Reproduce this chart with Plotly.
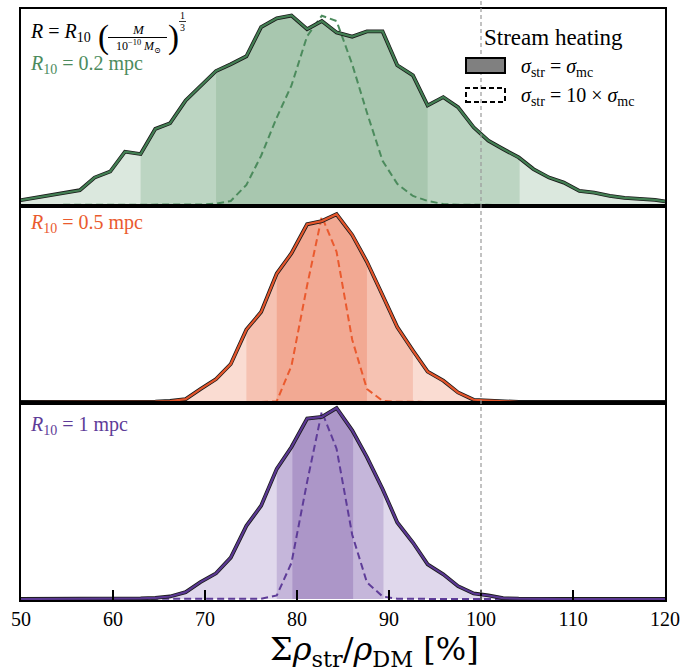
import numpy as np
import plotly.graph_objects as go
from plotly.subplots import make_subplots

# ---------------- data ----------------
bin_centers = [49.8, 51.4, 53.1, 54.7, 56.4, 58.0, 59.7, 61.3, 63.0, 64.6, 66.2, 67.9,
               69.5, 71.2, 72.8, 74.5, 76.1, 77.8, 79.4, 81.1, 82.7, 84.3, 86.0, 87.6,
               89.3, 90.9, 92.6, 94.2, 95.9, 97.5, 99.2, 100.8, 102.4, 104.1, 105.7, 107.4,
               109.0, 110.7, 112.3, 114.0, 115.6, 117.2, 118.9, 120.5]

green_solid = [4.5, 6.9, 9.5, 12, 14.7, 27.3, 33.3, 53, 50.7, 75.7, 81.3, 104, 118, 133.3,
               140, 148, 177, 185.7, 188.5, 175, 183, 171.7, 167.5, 172.7, 172.7, 139, 129,
               99, 107.3, 97.3, 77.3, 64, 55.7, 47.3, 35.7, 27.3, 22.3, 14, 12.3, 9, 7, 6.3, 5, 3]
green_dashed = [0, 0, 0, 0, 0, 0, 0, 0, 0, 0, 0, 0, 0.5, 1.3, 4, 20, 49, 87, 119, 168, 188.3,
                183, 140, 92, 44, 21, 9, 4, 1, 0.3, 0, 0, 0, 0, 0, 0, 0, 0, 0, 0, 0, 0, 0, 0]

orange_solid = [0, 0, 0, 0, 0, 0, 0, 0, 0, 0.3, 1, 2.8, 12.8, 22.8, 37.8, 72, 89.5, 127.8,
                148, 176.8, 180, 186.8, 166.2, 139.5, 106.2, 74.5, 51.2, 30.2, 21.2, 9.5, 2.2,
                1.5, 0.5, 0, 0, 0, 0, 0, 0, 0, 0, 0, 0, 0]
orange_dashed = [0, 0, 0, 0, 0, 0, 0, 0, 0, 0, 0, 0, 0, 0, 0, 0, 0, 0.8, 36, 116, 184.5,
                 149.5, 62, 13, 1.2, 0.2, 0, 0, 0, 0, 0, 0, 0, 0, 0, 0, 0, 0, 0, 0, 0, 0, 0, 0]

purple_solid = [0, 0, 0, 0, 0, 0, 0, 0.3, 0.7, 1.2, 2.5, 6.8, 16.8, 25.5, 41.2, 72.8, 92.8,
                129.5, 151.2, 179.5, 181.2, 190, 167.8, 141.2, 109.5, 76.2, 56.2, 34.5, 24.5,
                12.8, 5.5, 3.5, 0.8, 0.3, 0, 0, 0, 0, 0, 0, 0, 0, 0, 0]
purple_dashed = [0, 0, 0, 0, 0, 0, 0, 0, 0, 0, 0, 0, 0, 0, 0, 0, 0.3, 3.5, 36, 116.5, 186.5,
                 149.5, 64, 16.5, 2.5, 0.3, 0, 0, 0, 0, 0, 0, 0, 0, 0, 0, 0, 0, 0, 0, 0, 0, 0, 0]

# credible intervals (outer, inner)
green_intervals = [(63.0, 104.2), (71.2, 94.2)]
orange_intervals = [(74.5, 92.6), (77.8, 87.6)]
purple_intervals = [(77.8, 89.4), (79.5, 86.1)]

x_ticks = [50, 60, 70, 80, 90, 100, 110, 120]
labels = ["<i>R</i><sub>10</sub> = 0.2 mpc", "<i>R</i><sub>10</sub> = 0.5 mpc",
          "<i>R</i><sub>10</sub> = 1 mpc"]

panels = [
    dict(solid=green_solid, dashed=green_dashed, iv=green_intervals, line="#437f53",
         dash="#4c8b5d", fills=["#dbe8de", "#bcd5c2", "#a8c7af"], label=labels[0]),
    dict(solid=orange_solid, dashed=orange_dashed, iv=orange_intervals, line="#e4552b",
         dash="#ea5a2e", fills=["#fadcd2", "#f6c2b2", "#f2a993"], label=labels[1]),
    dict(solid=purple_solid, dashed=purple_dashed, iv=purple_intervals, line="#5b3893",
         dash="#5e3c98", fills=["#e0d8ec", "#c5b6da", "#ac96c8"], label=labels[2]),
]

W, H = 681, 671
ML, MR, MT, MB = 21, 16, 9, 71
PW, PH = W - ML - MR, H - MT - MB


def px(xp):
    return (xp - ML) / PW


def py(yp):
    return (H - MB - yp) / PH


fig = make_subplots(rows=3, cols=1, shared_xaxes=True, vertical_spacing=0)

xs = np.array(bin_centers)
for r, p in enumerate(panels, start=1):
    ys = np.array(p["solid"], dtype=float)
    # full light fill
    fig.add_trace(go.Scatter(x=xs, y=ys, mode="lines", line=dict(width=0),
                             fill="tozeroy", fillcolor=p["fills"][0], hoverinfo="skip",
                             showlegend=False), row=r, col=1)
    for k, (a, b) in enumerate(p["iv"]):
        inner = xs[(xs > a) & (xs < b)]
        sx = np.concatenate([[a], inner, [b]])
        sy = np.interp(sx, xs, ys)
        fig.add_trace(go.Scatter(x=sx, y=sy, mode="lines", line=dict(width=0),
                                 fill="tozeroy", fillcolor=p["fills"][k + 1],
                                 hoverinfo="skip", showlegend=False), row=r, col=1)
    fig.add_trace(go.Scatter(x=xs, y=p["dashed"], mode="lines",
                             line=dict(color=p["dash"], width=2, dash="7px,4px"),
                             showlegend=False), row=r, col=1)
    fig.add_trace(go.Scatter(x=xs, y=ys, mode="lines",
                             line=dict(color="#1a1a1a", width=3.8),
                             showlegend=False), row=r, col=1)
    fig.add_trace(go.Scatter(x=xs, y=ys, mode="lines",
                             line=dict(color=p["line"], width=2.2),
                             showlegend=False), row=r, col=1)

serif = "Liberation Serif, DejaVu Serif, serif"
axis_font = dict(family=serif, size=20, color="black")
for r in range(1, 4):
    fig.update_xaxes(range=[50, 120], showline=True, linecolor="black", linewidth=2,
                     mirror=True, showgrid=False, zeroline=False, row=r, col=1,
                     tickvals=x_ticks, automargin=False, ticklabeloverflow="allow",
                     ticks="inside" if r == 3 else "", ticklen=10, tickwidth=1.5,
                     tickcolor="black", showticklabels=(r == 3), tickfont=axis_font)
    fig.update_yaxes(range=[-1, 195], showline=True, linecolor="black", linewidth=2,
                     mirror=True, showgrid=False, zeroline=False, showticklabels=False,
                     ticks="", automargin=False, row=r, col=1)

shapes = []
# vertical reference line at 100%
shapes.append(dict(type="line", xref="x3", yref="paper", x0=100, x1=100, y0=0,
                   y1=1 + MT / PH, line=dict(color="#9a9a9a", width=1.2, dash="4px,3px"),
                   layer="above"))
# legend boxes
shapes.append(dict(type="rect", xref="paper", yref="paper", x0=px(466), x1=px(505),
                   y0=py(73), y1=py(58), fillcolor="#808080",
                   line=dict(color="black", width=2)))
shapes.append(dict(type="rect", xref="paper", yref="paper", x0=px(466), x1=px(505),
                   y0=py(102), y1=py(88), fillcolor="rgba(0,0,0,0)",
                   line=dict(color="black", width=2, dash="5px,3px")))
# fraction bars of the formula
shapes.append(dict(type="line", xref="paper", yref="paper", x0=px(108), x1=px(167),
                   y0=py(37.5), y1=py(37.5), line=dict(color="black", width=1)))
shapes.append(dict(type="line", xref="paper", yref="paper", x0=px(179), x1=px(186),
                   y0=py(21.5), y1=py(21.5), line=dict(color="black", width=0.8)))

ann = []


def text(x, y, s, size, color="black", anchor="left", family=serif):
    ann.append(dict(x=px(x), y=py(y), xref="paper", yref="paper", text=s,
                    showarrow=False, xanchor=anchor, yanchor="middle",
                    font=dict(family=family, size=size, color=color)))


# formula
text(28, 32, "<i>R</i> = <i>R</i><sub>10</sub>", 20)
text(96, 38, "(", 33)
text(138, 29.5, "<i>M</i>", 13, anchor="center")
text(138, 46, "10<sup>−10</sup> <i>M</i><sub>⊙</sub>", 12, anchor="center")
text(166, 38, ")", 33)
text(182.5, 15.5, "1", 10, anchor="center")
text(182.5, 27.5, "3", 10, anchor="center")

# panel labels
text(28, 64, panels[0]["label"], 20, panels[0]["dash"])
text(28, 223, panels[1]["label"], 20, panels[1]["dash"])
text(28, 425, panels[2]["label"], 20, panels[2]["dash"])

# legend
text(482, 37, "Stream heating", 23)
text(519, 67, "<i>σ</i><sub>str</sub> = <i>σ</i><sub>mc</sub>", 20)
text(519, 97, "<i>σ</i><sub>str</sub> = 10 × <i>σ</i><sub>mc</sub>", 20)

# x-axis title
text(374, 651, "Σ<i>ρ</i><sub>str</sub>/<i>ρ</i><sub>DM</sub> [%]", 32, anchor="center",
     family="DejaVu Serif, Liberation Serif, serif")

fig.update_layout(width=W, height=H, margin=dict(l=ML, r=MR, t=MT, b=MB),
                  plot_bgcolor="white", paper_bgcolor="white", shapes=shapes,
                  annotations=ann, showlegend=False)

fig.write_html("out.html")
